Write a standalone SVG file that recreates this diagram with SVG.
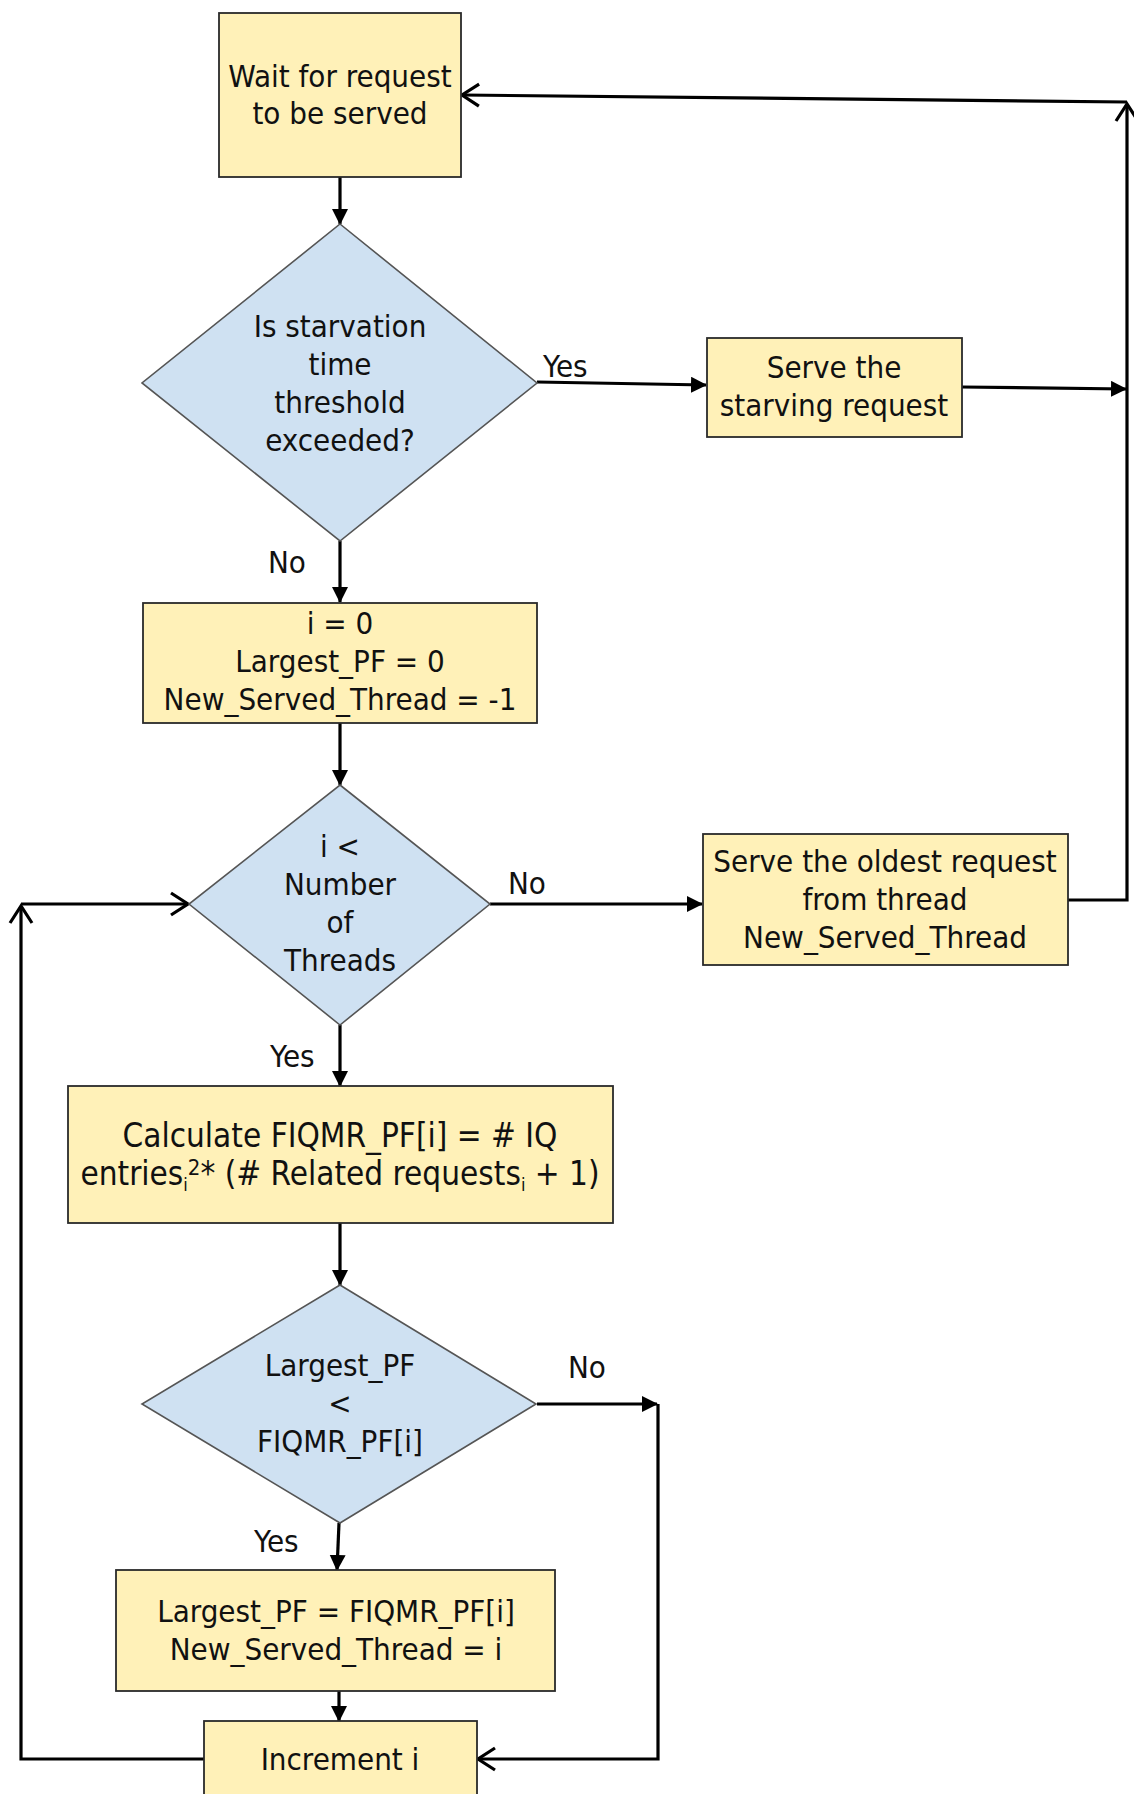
<svg xmlns="http://www.w3.org/2000/svg" width="1134" height="1794" viewBox="0 0 1134 1794">
<style>
.box{fill:#fff1b8;stroke:#2a2a2a;stroke-width:1.8}
.dia{fill:#cfe1f2;stroke:#555;stroke-width:1.6}
.t{font-family:"DejaVu Sans Condensed","DejaVu Sans",sans-serif;font-size:31px;fill:#111;text-anchor:middle}
.t33{font-size:33px}
.lbl{font-family:"DejaVu Sans Condensed","DejaVu Sans",sans-serif;font-size:31px;fill:#111}
.c{fill:none;stroke:#000;stroke-width:3.2}
.f{marker-end:url(#tri)}
.o{marker-end:url(#chev)}
</style>
<defs>
<marker id="tri" markerUnits="userSpaceOnUse" markerWidth="17" markerHeight="17" refX="15" refY="8" orient="auto">
<path d="M0,0 L16,8 L0,16 z" fill="#000"/>
</marker>
<marker id="chev" markerUnits="userSpaceOnUse" markerWidth="24" markerHeight="28" refX="20" refY="13" orient="auto">
<path d="M3,2 L20,13 L3,24" fill="none" stroke="#000" stroke-width="3.2"/>
</marker>
</defs>

<g id="connectors">
<line class="c f" x1="340" y1="177" x2="340" y2="224"/>
<path class="c f" d="M537,382 L706,385"/>
<path class="c f" d="M962,387 L1126,389"/>
<path class="c o" d="M1068,900 L1127,900 L1127,104"/>
<path class="c o" d="M1127,102 L462,95"/>
<line class="c f" x1="340" y1="541" x2="340" y2="602"/>
<line class="c f" x1="340" y1="723" x2="340" y2="785"/>
<line class="c f" x1="490" y1="904" x2="702" y2="904"/>
<line class="c f" x1="340" y1="1025" x2="340" y2="1086"/>
<line class="c f" x1="340" y1="1223" x2="340" y2="1285"/>
<path class="c f" d="M537,1404 L657,1404"/>
<path class="c o" d="M658,1404 L658,1759 L478,1759"/>
<path class="c f" d="M339,1523 L337,1570"/>
<line class="c f" x1="339" y1="1691" x2="339" y2="1721"/>
<path class="c o" d="M204,1759 L21,1759 L21,906"/>
<path class="c o" d="M21,904 L188,904"/>
</g>

<g id="n_wait">
<rect class="box" x="219" y="13" width="242" height="164"/>
<text class="t" x="340" y="87">Wait for request</text>
<text class="t" x="340" y="124">to be served</text>
</g>

<g id="n_starve_q">
<polygon class="dia" points="340,224 537,383 340,541 142,383"/>
<text class="t" x="340" y="337">Is starvation</text>
<text class="t" x="340" y="375">time</text>
<text class="t" x="340" y="413">threshold</text>
<text class="t" x="340" y="451">exceeded?</text>
</g>
<text class="lbl" x="543" y="377">Yes</text>
<text class="lbl" x="268" y="573">No</text>

<g id="n_serve_starving">
<rect class="box" x="707" y="338" width="255" height="99"/>
<text class="t" x="834" y="378">Serve the</text>
<text class="t" x="834" y="416">starving request</text>
</g>

<g id="n_init">
<rect class="box" x="143" y="603" width="394" height="120"/>
<text class="t" x="340" y="634">i = 0</text>
<text class="t" x="340" y="672">Largest_PF = 0</text>
<text class="t" x="340" y="710">New_Served_Thread = -1</text>
</g>

<g id="n_loop_q">
<polygon class="dia" points="340,785 490,904 340,1025 189,904"/>
<text class="t" x="340" y="857">i &lt;</text>
<text class="t" x="340" y="895">Number</text>
<text class="t" x="340" y="933">of</text>
<text class="t" x="340" y="971">Threads</text>
</g>
<text class="lbl" x="508" y="894">No</text>
<text class="lbl" x="270" y="1067">Yes</text>

<g id="n_serve_oldest">
<rect class="box" x="703" y="834" width="365" height="131"/>
<text class="t" x="885" y="872">Serve the oldest request</text>
<text class="t" x="885" y="910">from thread</text>
<text class="t" x="885" y="948">New_Served_Thread</text>
</g>

<g id="n_calc">
<rect class="box" x="68" y="1086" width="545" height="137"/>
<text class="t t33" x="340" y="1147">Calculate FIQMR_PF[i] = # IQ</text>
<text class="t t33" x="340" y="1185">entries<tspan font-size="18" dy="6">i</tspan><tspan font-size="22" dy="-16">2</tspan><tspan dy="10">* (# Related requests</tspan><tspan font-size="18" dy="6">i</tspan><tspan dy="-6"> + 1)</tspan></text>
</g>

<g id="n_cmp_q">
<polygon class="dia" points="340,1285 536,1404 340,1523 142,1404"/>
<text class="t" x="340" y="1376">Largest_PF</text>
<text class="t" x="340" y="1414">&lt;</text>
<text class="t" x="340" y="1452">FIQMR_PF[i]</text>
</g>
<text class="lbl" x="568" y="1378">No</text>
<text class="lbl" x="254" y="1552">Yes</text>

<g id="n_update">
<rect class="box" x="116" y="1570" width="439" height="121"/>
<text class="t" x="336" y="1622">Largest_PF = FIQMR_PF[i]</text>
<text class="t" x="336" y="1660">New_Served_Thread = i</text>
</g>

<g id="n_increment">
<rect class="box" x="204" y="1721" width="273" height="90"/>
<text class="t" x="340" y="1770">Increment i</text>
</g>
</svg>
